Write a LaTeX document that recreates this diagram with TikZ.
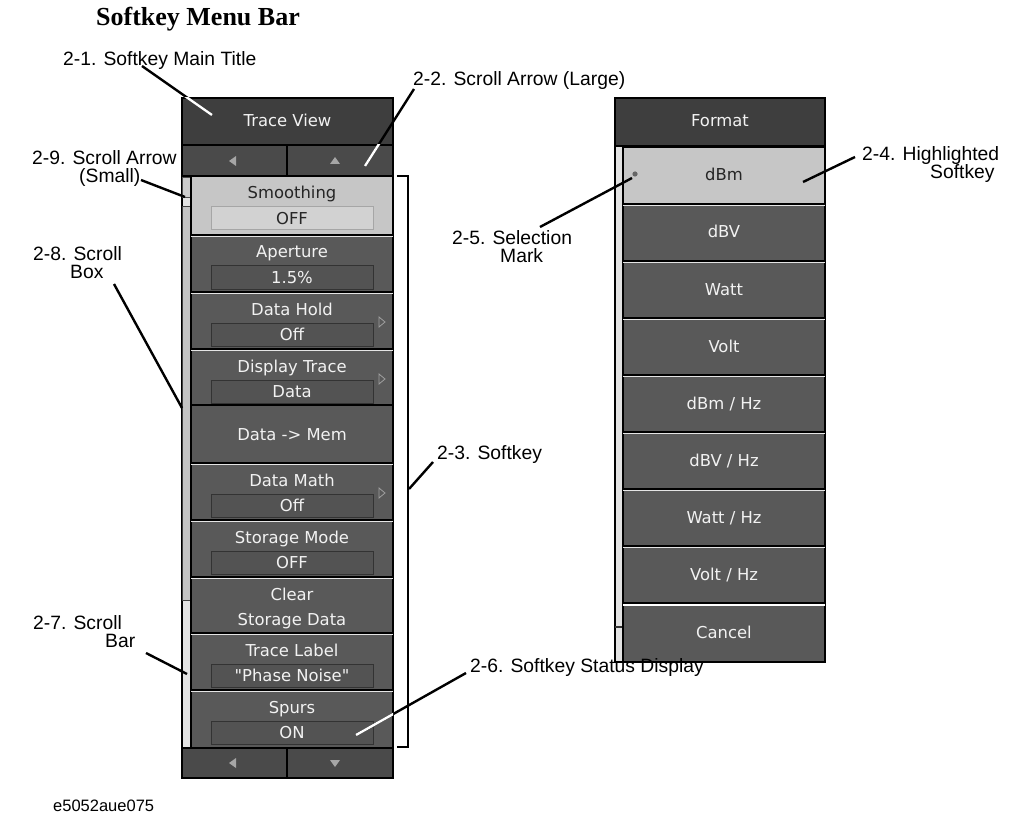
\documentclass[tikz,border=0pt]{standalone}
\usepackage{fontspec}
\setmainfont{Liberation Serif}
\newfontfamily\lblfont{Liberation Sans}
\newfontfamily\keyfnt{DejaVu Sans}
\definecolor{tbfill}{HTML}{3E3E3E}
\definecolor{keyfill}{HTML}{595959}
\definecolor{rowfill}{HTML}{4A4A4A}
\definecolor{hifill}{HTML}{C6C6C6}
\definecolor{hiinset}{HTML}{D2D2D2}
\definecolor{insetfill}{HTML}{535353}
\definecolor{trackfill}{HTML}{E2E2E2}
\definecolor{sboxfill}{HTML}{C4C4C4}
\definecolor{keytext}{HTML}{F2F2F2}
\tikzset{
  panel/.style={draw=black, line width=1.2pt, inner sep=0pt, outer sep=0pt},
  titlebar/.style={panel, fill=tbfill, anchor=north west},
  rowbox/.style={panel, fill=rowfill, anchor=north west, minimum height=31pt},
  keybox/.style={panel, fill=keyfill, minimum width=202pt, anchor=north west},
  hikey/.style={keybox, fill=hifill},
  inset/.style={draw=black!80, line width=1pt, fill=insetfill, minimum width=162pt, minimum height=23pt, inner sep=0pt},
  hilite/.style={draw=white!80!gray, line width=1pt},
  ktext/.style={text=keytext, font=\keyfnt\fontsize{16.4}{18}\selectfont, inner sep=0pt, anchor=base},
  lbl/.style={font=\lblfont\fontsize{19.3}{18.5}\selectfont, inner sep=0pt, align=left},
  lead/.style={draw=black, line width=2.4pt},
  leadw/.style={draw=white, line width=2.4pt},
  tri/.style={fill=gray!70, draw=none},
  trio/.style={draw=gray!75, line width=0.8pt},
}
\newcommand\mkTwo[6]{%
  \node[keybox, minimum height=#3pt] (#1) at (191,#2) {};
  \draw[hilite] ([yshift=-1.3pt]#1.north west) -- ([yshift=-1.3pt]#1.north east);
  \node[inset] (#1v) at (292,#2+42.5) {};
  \node[ktext] (#1t) at (292,#2+23) {#4};
  \node[ktext] (#1s) at (292,#2+48.5) {#5};
  \ifnum#6=1 \draw[trio] (379,#2+25) -- (385,#2+30) -- (379,#2+35) -- cycle;\fi
}
\newcommand\mkRight[3]{%
  \node[keybox, minimum height=57pt] (#1) at (623,#2) {};
  \draw[hilite] ([yshift=-1.3pt]#1.north west) -- ([yshift=-1.3pt]#1.north east);
  \node[ktext] (#1t) at (724,#2+34) {#3};
}
\begin{document}
\begin{tikzpicture}[x=1pt,y=-1pt]
\useasboundingbox[fill=white] (0,0) rectangle (1022,826);

% heading
\node[font=\bfseries\fontsize{26}{30}\selectfont, inner sep=0pt, anchor=base] (head) at (198,26) {Softkey Menu Bar};

% ---------------- left menu ----------------
\node[titlebar, minimum width=211pt, minimum height=47pt] (tb) at (182,98) {};
\node[ktext] (tbt) at (287.5,127) {Trace View};
\node[rowbox, minimum width=105pt] (arL) at (182,145) {};
\node[rowbox, minimum width=106pt] (arR) at (287,145) {};
\fill[tri] (229,161) -- (236,156) -- (236,166) -- cycle;
\fill[tri] (330,164) -- (340,164) -- (335,157) -- cycle;

% scroll column
\draw[panel, fill=trackfill] (182,176) rectangle (191,748);
\draw[draw=black!70, line width=0.8pt, fill=black!20] (182.5,177) rectangle (190.5,197);
\draw[draw=black!75, line width=1pt, fill=sboxfill] (182.5,207) rectangle (190.5,600);

% softkeys
\node[hikey, minimum height=59pt] (k1) at (191,176) {};
\node[inset, fill=hiinset, draw=black!35] (k1v) at (292,218.5) {};
\node[ktext, text=black!85] (k1t) at (292,199) {Smoothing};
\node[ktext, text=black!85] (k1s) at (292,224.5) {OFF};
\mkTwo{k2}{235}{57}{Aperture}{1.5\%}{0}
\mkTwo{k3}{292}{57}{Data Hold}{Off}{1}
\mkTwo{k4}{349}{56}{Display Trace}{Data}{1}
\node[keybox, minimum height=58pt] (k5) at (191,405) {};
\node[ktext] (k5t) at (292,440) {Data -> Mem};
\mkTwo{k6}{463}{57}{Data Math}{Off}{1}
\mkTwo{k7}{520}{57}{Storage Mode}{OFF}{0}
\node[keybox, minimum height=56pt] (k8) at (191,577) {};
\draw[hilite] ([yshift=-1.3pt]k8.north west) -- ([yshift=-1.3pt]k8.north east);
\node[ktext] (k8t) at (292,600) {Clear};
\node[ktext] (k8s) at (292,625.5) {Storage Data};
\mkTwo{k9}{633}{57}{Trace Label}{"Phase Noise"}{0}
\mkTwo{k10}{690}{58}{Spurs}{ON}{0}

\node[rowbox, minimum width=105pt, minimum height=30pt] (brL) at (182,748) {};
\node[rowbox, minimum width=106pt, minimum height=30pt] (brR) at (287,748) {};
\fill[tri] (229,763) -- (236,758) -- (236,768) -- cycle;
\fill[tri] (330,760) -- (340,760) -- (335,767) -- cycle;

% ---------------- right menu ----------------
\node[titlebar, minimum width=210pt, minimum height=48pt] (rtb) at (615,98) {};
\node[ktext] (rtbt) at (720,127) {Format};
\draw[panel, fill=trackfill] (615,146) rectangle (623,662);
\draw[draw=black!80, line width=1.5pt] (615,627) -- (622,627);
\node[hikey, minimum height=57pt] (r1) at (623,147) {};
\node[ktext, text=black!85] (r1t) at (724,181) {dBm};
\mkRight{r2}{204}{dBV}
\mkRight{r3}{261}{Watt}
\mkRight{r4}{318}{Volt}
\mkRight{r5}{375}{dBm / Hz}
\mkRight{r6}{432}{dBV / Hz}
\mkRight{r7}{489}{Watt / Hz}
\mkRight{r8}{546}{Volt / Hz}
\node[keybox, minimum height=59pt] (r9) at (623,603) {};
\draw[draw=white, line width=2pt] ([yshift=-2pt]r9.north west) -- ([yshift=-2pt]r9.north east);
\node[ktext] (r9t) at (724,638) {Cancel};
\fill[black!60] (635,174) circle (2.6pt);

% ---------------- labels ----------------
\node[lbl, anchor=base west] (l1) at (63,66) {2-1. Softkey Main Title};
\node[lbl, anchor=base west] (l2) at (413,86) {2-2. Scroll Arrow (Large)};
\node[lbl, anchor=base west] (l3) at (437,459) {2-3. Softkey};
\node[lbl, anchor=north west] (l4) at (862,146) {2-4. Highlighted\\\hspace*{68pt}Softkey};
\node[lbl, anchor=north west] (l5) at (452,230) {2-5. Selection\\\hspace*{48pt}Mark};
\node[lbl, anchor=base west] (l6) at (470,672) {2-6. Softkey Status Display};
\node[lbl, anchor=north west] (l7) at (33,615) {2-7. Scroll\\\hspace*{72pt}Bar};
\node[lbl, anchor=north west] (l8) at (33,246) {2-8. Scroll\\\hspace*{37pt}Box};
\node[lbl, anchor=north west] (l9) at (32,150) {2-9. Scroll Arrow\\\hspace*{47pt}(Small)};
\node[font=\lblfont\fontsize{16.5}{18}\selectfont, inner sep=0pt, anchor=base west] (fig) at (53,811) {e5052aue075};

% ---------------- leaders ----------------
\coordinate (c1s) at (142,66);  \coordinate (c1e) at (212,115);
\coordinate (c2s) at (414,89);  \coordinate (c2e) at (365,166);
\coordinate (c3s) at (433,462); \coordinate (c3e) at (409,489);
\coordinate (c4s) at (855,157); \coordinate (c4e) at (803,182);
\coordinate (c5s) at (540,227); \coordinate (c5e) at (632,178);
\coordinate (c6s) at (466,673); \coordinate (c6e) at (356,735);
\coordinate (c7s) at (146,653); \coordinate (c7e) at (187,674);
\coordinate (c8s) at (114,284); \coordinate (c8e) at (182,408);
\coordinate (c9s) at (141,180); \coordinate (c9e) at (185,197);
\coordinate (bA) at (397,176); \coordinate (bB) at (408,176);
\coordinate (bC) at (408,747); \coordinate (bD) at (397,747);

\draw[lead] (c1s) -- (c1e);
\draw[lead] (c2s) -- (c2e);
\draw[lead] (c3s) -- (c3e);
\draw[lead] (c4s) -- (c4e);
\draw[lead] (c5s) -- (c5e);
\draw[lead] (c6s) -- (c6e);
\draw[lead] (c7s) -- (c7e);
\draw[lead] (c8s) -- (c8e);
\draw[lead] (c9s) -- (c9e);
\draw[lead, line width=2.2pt] (bA) -- (bB) -- (bC) -- (bD);

\begin{scope}
  \clip (tb.north west) rectangle (tb.south east);
  \draw[leadw] (c1s) -- (c1e);
\end{scope}
\begin{scope}
  \clip (arR.north west) rectangle (arR.south east);
  \draw[leadw] (c2s) -- (c2e);
\end{scope}
\begin{scope}
  \clip (k10.north west) rectangle (k10.south east);
  \draw[leadw] (c6s) -- (c6e);
\end{scope}
\end{tikzpicture}
\end{document}
